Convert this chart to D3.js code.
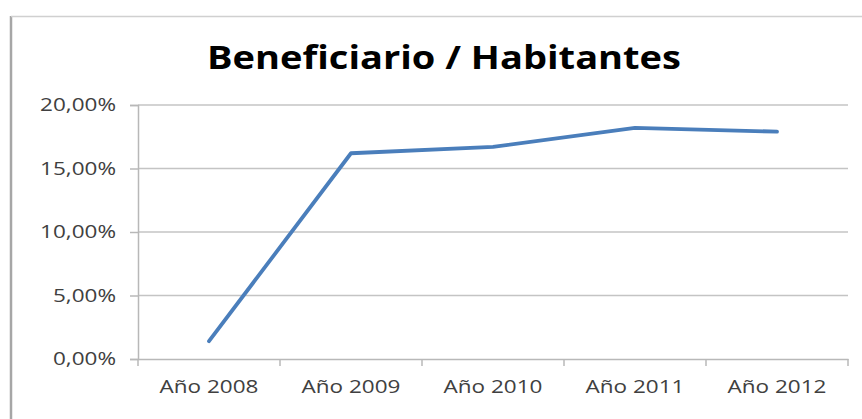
<!DOCTYPE html>
<html>
<head>
<meta charset="utf-8">
<script src="https://cdn.jsdelivr.net/npm/d3@7"></script>
<style>
  html, body { margin: 0; padding: 0; background: #fff; }
  svg { display: block; }
</style>
</head>
<body>
<svg id="chart" width="862" height="419"></svg>
<script>
// Beneficiarios por habitante, 2008–2012
const title = "Beneficiario / Habitantes";
const categories = ["Año 2008", "Año 2009", "Año 2010", "Año 2011", "Año 2012"];
const values = [1.4, 16.2, 16.7, 18.2, 17.9]; // percent
const yTicks = [0, 5, 10, 15, 20];

const svg = d3.select("#chart");
const W = 862, H = 419;
const plot = { left: 138, right: 848, top: 105, bottom: 359 };
const FONT = "'Open Sans', sans-serif";
const STRETCH = 1.25; // widen glyphs horizontally

function widen(sel, k) {
  sel.each(function () {
    const w = this.getComputedTextLength();
    d3.select(this).attr("textLength", w * k).attr("lengthAdjust", "spacingAndGlyphs");
  });
}

// Outer chart frame (left and top edges visible)
svg.append("line").attr("x1", 11).attr("x2", 11).attr("y1", 16).attr("y2", H)
  .attr("stroke", "#a6a6a6").attr("stroke-width", 2.5);
svg.append("line").attr("x1", 11).attr("x2", W).attr("y1", 16.5).attr("y2", 16.5)
  .attr("stroke", "#d0d0d0").attr("stroke-width", 1.5);

const x = d3.scaleBand().domain(categories).range([plot.left, plot.right]).padding(0);
const y = d3.scaleLinear().domain([0, 20]).range([plot.bottom, plot.top]);

const fmt = v => d3.format(".2f")(v).replace(".", ",") + "%";

// Horizontal gridlines
svg.append("g")
  .selectAll("line").data(yTicks.filter(t => t > 0)).join("line")
  .attr("x1", plot.left).attr("x2", plot.right)
  .attr("y1", d => y(d)).attr("y2", d => y(d))
  .attr("stroke", "#c4c4c4").attr("stroke-width", 1.5);

// Y axis
const yAxis = svg.append("g")
  .attr("transform", `translate(${plot.left},0)`)
  .call(d3.axisLeft(y).tickValues(yTicks).tickFormat(fmt).tickSize(8).tickPadding(14));
yAxis.select(".domain").attr("stroke", "#b8b8b8").attr("stroke-width", 1.5);
yAxis.selectAll(".tick line").attr("stroke", "#b8b8b8").attr("stroke-width", 1.5);
yAxis.selectAll("text")
  .attr("fill", "#404040")
  .style("font-family", FONT)
  .style("font-size", "18px")
  .call(widen, STRETCH);

// X axis with ticks at category boundaries
const xAxis = svg.append("g")
  .attr("transform", `translate(0,${plot.bottom})`)
  .call(d3.axisBottom(x).tickSize(0).tickPadding(21));
xAxis.select(".domain").attr("stroke", "#b8b8b8").attr("stroke-width", 1.5);
xAxis.selectAll("text")
  .attr("fill", "#404040")
  .style("font-family", FONT)
  .style("font-size", "18px")
  .call(widen, STRETCH);
const bounds = categories.map(c => x(c)).concat([x.range()[1]]);
xAxis.selectAll(".bound").data(bounds).join("line")
  .attr("class", "bound")
  .attr("x1", d => d).attr("x2", d => d)
  .attr("y1", 0).attr("y2", 7)
  .attr("stroke", "#b8b8b8").attr("stroke-width", 1.5);

// Series line
const line = d3.line()
  .x((d, i) => x(categories[i]) + x.bandwidth() / 2)
  .y(d => y(d));
svg.append("path")
  .datum(values)
  .attr("d", line)
  .attr("fill", "none")
  .attr("stroke", "#4a7ebb")
  .attr("stroke-width", 3.8)
  .attr("stroke-linecap", "round")
  .attr("stroke-linejoin", "round");

// Title
svg.append("text")
  .attr("x", 444).attr("y", 69)
  .attr("text-anchor", "middle")
  .attr("fill", "#000")
  .style("font-family", FONT)
  .style("font-weight", "bold")
  .style("font-size", "32px")
  .text(title)
  .attr("textLength", 474)
  .attr("lengthAdjust", "spacingAndGlyphs");
</script>
</body>
</html>
